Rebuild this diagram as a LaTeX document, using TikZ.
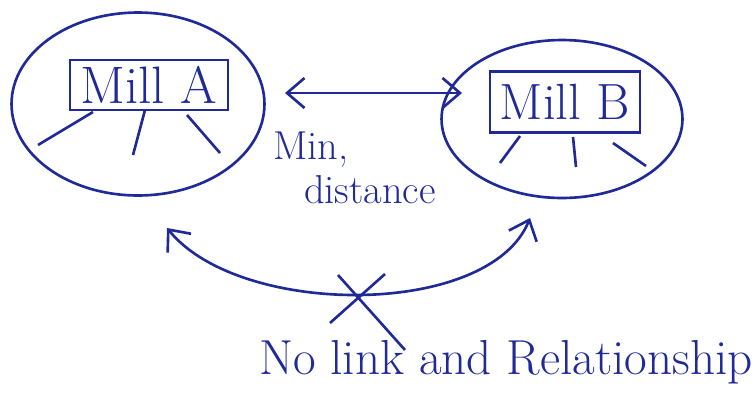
\documentclass[tikz,border=0pt]{standalone}
\usepackage{tikz}
\usetikzlibrary{positioning, calc, shapes.geometric, arrows.meta}
\definecolor{ink}{RGB}{32,42,150}

\begin{document}
\begin{tikzpicture}[x=0.02cm, y=-0.02cm, line width=1.5pt, color=ink,
		barb/.style={{Straight Barb[length=3.5mm,width=6mm]}-{Straight Barb[length=3.5mm,width=6mm]}}]
			\useasboundingbox (0,0) rectangle (753,400);
			% the two mills
			\node (millA) [draw, ellipse, minimum width=5.06cm, minimum height=3.66cm] at (138,104) {};
			\node (boxA) [draw, minimum width=3.16cm, minimum height=1cm, inner sep=1pt, font=\fontsize{30}{30}\selectfont] at (149,85) {Mill A};
			\node (millB) [draw, ellipse, minimum width=4.82cm, minimum height=3.16cm] at (562,119) {};
			\node (boxB) [draw, minimum width=3cm, minimum height=1.22cm, inner sep=1pt, font=\fontsize{29}{29}\selectfont] at (565,102) {Mill B};
			
			% legs under the boxes
			\draw (93,112) -- (38,145);
			\draw (145,110) -- (133,155);
			\draw (187,115) -- (220,153);
			\draw (520,136) -- (500,163);
			\draw (573,137) -- (576,167);
			\draw (613,143) -- (646,166);
			
			% labels
			\node (lblMin) [font=\fontsize{23}{25}\selectfont] at (311,150) {Min,};
			\node (lblDist) [font=\fontsize{23}{25}\selectfont] at (370,190) {distance};
			\node (lblNo) [font=\fontsize{28}{30}\selectfont] at (506,362) {No link and Relationship};
			
			% straight arrow between the mills
			\coordinate (aL) at (285,93);
			\coordinate (aR) at (462,93);
			\draw [barb] (aL) -- (aR);
			
			% curved arrow with the cross
			\coordinate (cA) at (167,228);
			\coordinate (cB) at (530,218);
			\draw [barb] (cA) .. controls (240,318) and (490,318) .. (cB);
			\draw (338,275) -- (405,350);
			\draw (385,274) -- (330,323);
		\end{tikzpicture}
\end{document}
